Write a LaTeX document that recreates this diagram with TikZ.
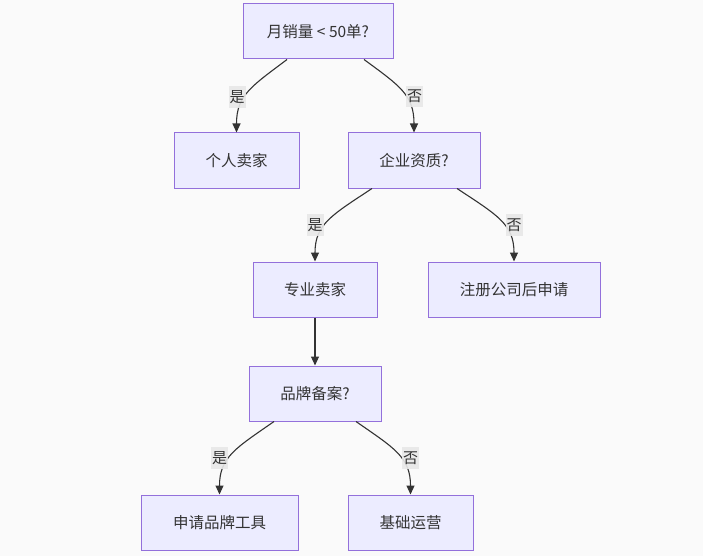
\documentclass[tikz,border=0pt]{standalone}
\usepackage{fontspec}
\setmainfont{Noto Sans CJK SC}
\usetikzlibrary{arrows.meta}
\definecolor{nodefill}{HTML}{ECECFF}
\definecolor{nodeline}{HTML}{9370DB}
\definecolor{edgeline}{HTML}{333333}
\definecolor{labelbg}{HTML}{E8E8E8}
\definecolor{bg}{HTML}{FAFAFA}
\begin{document}
\begin{tikzpicture}[x=1pt,y=-1pt,
  box/.style={draw=nodeline,fill=nodefill,line width=1pt,minimum height=55pt,inner sep=0pt,font=\fontsize{15.5}{18}\selectfont,text=edgeline},
  edge/.style={draw=edgeline,line width=1.1pt,-{Triangle[length=9pt,width=8pt]}},
  elabel/.style={fill=labelbg,fill opacity=0.9,text opacity=1,inner xsep=1pt,inner ysep=4.5pt,font=\fontsize{15}{17}\selectfont,text=edgeline}]
\fill[bg] (0,0) rectangle (703,556);
\useasboundingbox (0,0) rectangle (703,556);
\node[box,minimum width=150pt] (A) at (318,31.5) {月销量 < 50单?};
\node[box,minimum width=125pt] (B) at (236.5,160.5) {个人卖家};
\node[box,minimum width=132pt] (C) at (414,160.5) {企业资质?};
\node[box,minimum width=124pt] (D) at (315,289.5) {专业卖家};
\node[box,minimum width=172pt] (E) at (514,289.5) {注册公司后申请};
\node[box,minimum width=132pt] (F) at (315,393.5) {品牌备案?};
\node[box,minimum width=157pt] (G) at (219.5,522.5) {申请品牌工具};
\node[box,minimum width=125pt] (H) at (410.5,522.5) {基础运营};
\draw[edge] ([xshift=-31pt]A.south) .. controls (252,86) and (236.5,95) .. (B.north);
\draw[edge] ([xshift=46pt]A.south) .. controls (400,86) and (414,95) .. (C.north);
\draw[edge] ([xshift=-42pt]C.south) .. controls (332,215) and (315,224) .. (D.north);
\draw[edge] ([xshift=43pt]C.south) .. controls (497,215) and (514,224) .. (E.north);
\draw[edge] (D.south) -- (F.north);
\draw[edge] ([xshift=-41pt]F.south) .. controls (236,448) and (219.5,457) .. (G.north);
\draw[edge] ([xshift=41pt]F.south) .. controls (394,448) and (410.5,457) .. (H.north);
\node[elabel] (lab1) at (237,97) {是};
\node[elabel] (lab2) at (414.5,96.5) {否};
\node[elabel] (lab3) at (315,225) {是};
\node[elabel] (lab4) at (514,225) {否};
\node[elabel] (lab5) at (219.5,458) {是};
\node[elabel] (lab6) at (410.5,458) {否};
\end{tikzpicture}
\end{document}
